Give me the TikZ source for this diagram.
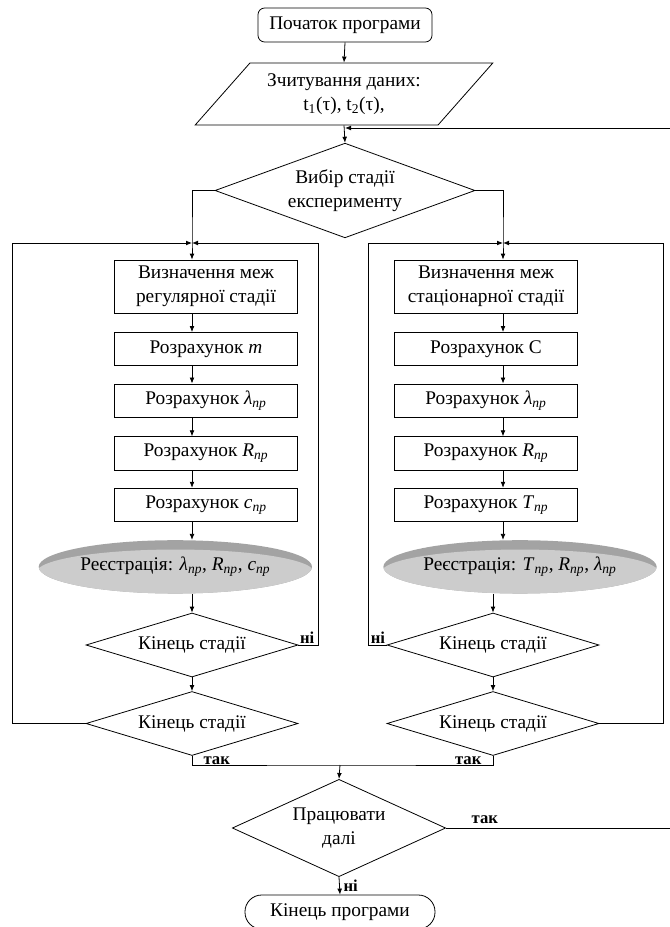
\documentclass[tikz,border=0pt]{standalone}
\usepackage{fontspec}
\setmainfont{Liberation Serif}
\usetikzlibrary{positioning, arrows.meta, calc, shapes.geometric}

\newcommand{\withpr}[1]{\textit{#1}\textsubscript{\textit{пр}}}

\tikzset{
  base/.style={draw, line width=0.6pt, align=center, inner sep=2pt,
               font=\fontsize{14.5}{18}\selectfont},
  startbox/.style={base, rounded corners=5pt, minimum width=130.5pt, minimum height=25.5pt},
  endbox/.style={base, rounded corners=12.5pt, minimum width=142.5pt, minimum height=25.5pt},
  iobox/.style={base, trapezium, trapezium left angle=45, trapezium right angle=135,
                trapezium stretches=true, minimum width=223.5pt, minimum height=46.5pt},
  procbox/.style={base, rectangle, minimum width=137pt, minimum height=25pt},
  decision/.style={base, diamond, inner sep=0pt, shape aspect=3.3,
                   minimum width=159pt, minimum height=48pt},
  regdisc/.style={ellipse, inner xsep=-15pt, inner ysep=0pt, minimum width=205pt, minimum height=40pt,
                  fill=gray!72, font=\fontsize{14.5}{18}\selectfont,
                  path picture={\fill[gray!40] ([yshift=-4pt]path picture bounding box.center)
                                ellipse [x radius=104pt, y radius=17pt];}},
  arrow/.style={-{Latex[length=4.5pt,width=3.6pt]}, line width=0.6pt},
  line/.style={line width=0.6pt},
  answer/.style={font=\bfseries\fontsize{12.5}{14}\selectfont, inner sep=1pt},
}

\begin{document}
\begin{tikzpicture}[x=0.75pt, y=-0.75pt]
\useasboundingbox (0,0) rectangle (670,927);

%% ====================  START  ====================

\node[startbox] (start) at (345,25) {Початок програми};
\node[iobox] (read) at (344,94) {Зчитування даних:\\t\textsubscript{1}(τ), t\textsubscript{2}(τ),};
\node[decision, shape aspect=2.74, minimum width=195pt, minimum height=71pt]
  (choose) at (345,190.5) {Вибір стадії\\експерименту};

\coordinate (fb) at (345,128);
\coordinate (lj) at (192,243);
\coordinate (rj) at (503,243);

%% ====================  LEFT STAGE  ====================

\node[procbox, minimum height=39.75pt] (lb1) at (206,286.5) {Визначення меж\\регулярної стадії};
\node[procbox, below=14pt of lb1] (lb2) {Розрахунок \textit{m}};
\node[procbox, below=13pt of lb2] (lb3) {Розрахунок \withpr{λ}};
\node[procbox, below=14pt of lb3] (lb4) {Розрахунок \withpr{R}};
\node[procbox, below=13pt of lb4] (lb5) {Розрахунок \withpr{c}};
\node[regdisc, below=13.5pt of lb5, xshift=-23pt] (lreg) {Реєстрація: \withpr{λ}, \withpr{R}, \withpr{c}};
\node[decision] (lend1) at (192,645) {Кінець стадії};
\node[decision] (lend2) at (192,723.5) {Кінець стадії};

%% ====================  RIGHT STAGE  ====================

\node[procbox, minimum height=39.75pt] (rb1) at (486,286.5) {Визначення меж\\стаціонарної стадії};
\node[procbox, below=14pt of rb1] (rb2) {Розрахунок С};
\node[procbox, below=13pt of rb2] (rb3) {Розрахунок \withpr{λ}};
\node[procbox, below=14pt of rb3] (rb4) {Розрахунок \withpr{R}};
\node[procbox, below=13pt of rb4] (rb5) {Розрахунок \withpr{T}};
\node[regdisc, below=13.5pt of rb5, xshift=25.5pt] (rreg) {Реєстрація: \withpr{T}, \withpr{R}, \withpr{λ}};
\node[decision] (rend1) at (493,645) {Кінець стадії};
\node[decision] (rend2) at (493,723.5) {Кінець стадії};

%% ====================  FINISH  ====================

\coordinate (mj) at (340,765);
\node[decision, shape aspect=2.2, minimum width=160pt, minimum height=73pt]
  (work) at (339,828) {Працювати\\далі};
\node[endbox] (finish) at (340,912) {Кінець програми};

%% ====================  ARROWS  ====================

\draw[arrow] (start.south) -- (read.north);
\draw[arrow] (read.south) -- (choose.north);
\draw[arrow] (choose.west) -| (lj) -- (lb1.north -| lj);
\draw[arrow] (choose.east) -| (rj) -- (rb1.north -| rj);

\foreach \a/\b in {lb1/lb2, lb2/lb3, lb3/lb4, lb4/lb5, lb5/lreg}
  \draw[arrow] (\a.south -| lj) -- (\b.north -| lj);
\foreach \a/\b in {rb1/rb2, rb2/rb3, rb3/rb4, rb4/rb5, rb5/rreg}
  \draw[arrow] (\a.south -| rj) -- (\b.north -| rj);

\draw[arrow] (lreg.south -| lend1) -- (lend1.north);
\draw[arrow] (lend1.south) -- (lend2.north);
\draw[arrow] (rreg.south -| rend1) -- (rend1.north);
\draw[arrow] (rend1.south) -- (rend2.north);

%% loops back to the stage start
\draw[arrow] (lend1.east) -- ++(20,0) |- (lj);
\draw[arrow] (lend2.west) -- ++(-73,0) |- (lj);
\draw[arrow] (rend1.west) -- ++(-18,0) |- (rj);
\draw[arrow] (rend2.east) -- ++(64,0) |- (rj);

\node[answer, anchor=south west] (lno) at (lend1.east) {ні};
\node[answer, anchor=south east] (rno) at (rend1.west) {ні};

%% stage exits
\draw[line] (lend2.south) |- (mj) -| (rend2.south);
\draw[arrow] (mj) -- (work.north);
\node[answer, anchor=south west] (lyes) at ($(lend2.south)+(10,10)$) {так};
\node[answer, anchor=south east] (ryes) at ($(rend2.south)+(-10,10)$) {так};

\draw[arrow] (work.east) -- ++(260,0) |- (fb);
\node[answer, anchor=south west] (wyes) at ($(work.east)+(24,-3)$) {так};
\draw[arrow] (work.south) -- (finish.north);
\node[answer, anchor=north west] (wno) at ($(work.south)+(3,1)$) {ні};

\end{tikzpicture}
\end{document}
